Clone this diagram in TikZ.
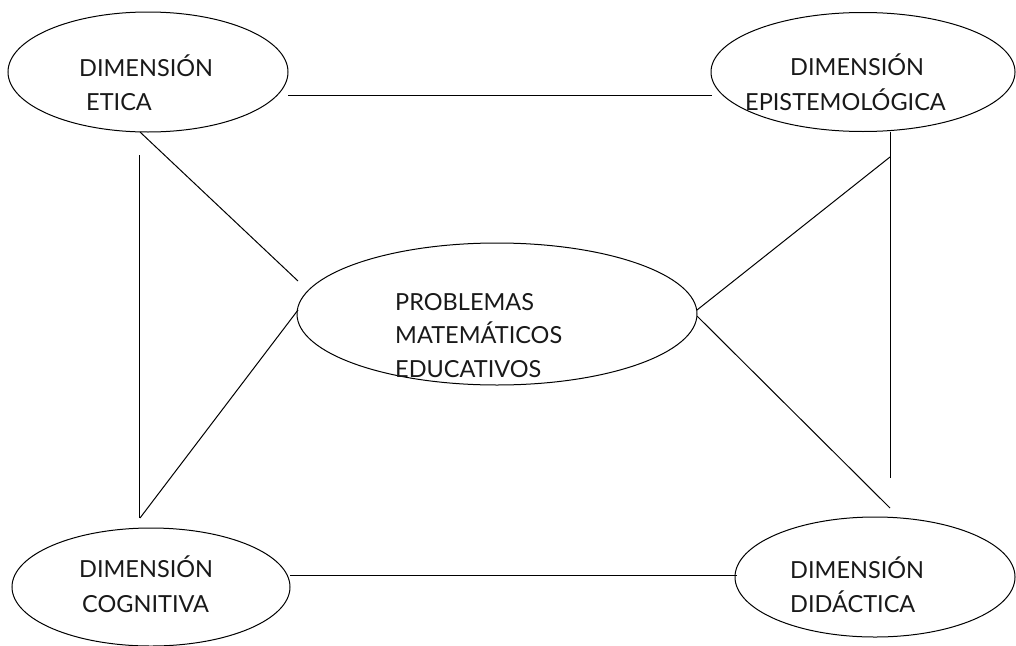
\documentclass[tikz,border=0pt]{standalone}
\usepackage{fontspec}
\setmainfont{Lato}
\usetikzlibrary{shapes.geometric}
\tikzset{
  dim/.style={draw, ellipse, inner sep=0pt, line width=1pt},
  lbl/.style={anchor=base west, inner sep=0pt, font=\fontsize{23.5}{28}\selectfont, text=black!90},
  link/.style={line width=1pt}
}
\begin{document}
\begin{tikzpicture}[x=1pt,y=-1pt]
\useasboundingbox (0,0) rectangle (1016,645);
% ellipses
\node[dim, minimum width=280pt, minimum height=120pt] (eti) at (148,72) {};
\node[dim, minimum width=304pt, minimum height=119pt] (epi) at (863,72) {};
\node[dim, minimum width=400pt, minimum height=142pt] (pme) at (497,314) {};
\node[dim, minimum width=278pt, minimum height=118pt] (cog) at (151,587) {};
\node[dim, minimum width=280pt, minimum height=120pt] (did) at (875,577) {};
% labels
\node[lbl] (t1a) at (79,76) {DIMENSIÓN};
\node[lbl] (t1b) at (86,110) {ETICA};
\node[lbl] (t2a) at (790,75) {DIMENSIÓN};
\node[lbl] (t2b) at (745,110) {EPISTEMOLÓGICA};
\node[lbl] (t3a) at (395,310) {PROBLEMAS};
\node[lbl] (t3b) at (395,343) {MATEMÁTICOS};
\node[lbl] (t3c) at (395,377) {EDUCATIVOS};
\node[lbl] (t4a) at (79,577) {DIMENSIÓN};
\node[lbl] (t4b) at (82,612) {COGNITIVA};
\node[lbl] (t5a) at (790,578) {DIMENSIÓN};
\node[lbl] (t5b) at (790,612) {DIDÁCTICA};
% connector end points
\coordinate (a1) at (288,95);
\coordinate (a2) at (712,95);
\coordinate (b1) at (140,132);
\coordinate (b2) at (298,281);
\coordinate (c1) at (139,155);
\coordinate (c2) at (139,518);
\coordinate (d1) at (298,310);
\coordinate (d2) at (140,518);
\coordinate (e1) at (890,132);
\coordinate (e2) at (890,478);
\coordinate (f1) at (697,310);
\coordinate (f2) at (890,157);
\coordinate (g1) at (697,316);
\coordinate (g2) at (890,508);
\coordinate (h1) at (290,575);
\coordinate (h2) at (737,575);
% connectors
\draw[link] (a1) -- (a2);
\draw[link] (b1) -- (b2);
\draw[link] (c1) -- (c2);
\draw[link] (d1) -- (d2);
\draw[link] (e1) -- (e2);
\draw[link] (f1) -- (f2);
\draw[link] (g1) -- (g2);
\draw[link] (h1) -- (h2);
\end{tikzpicture}
\end{document}
